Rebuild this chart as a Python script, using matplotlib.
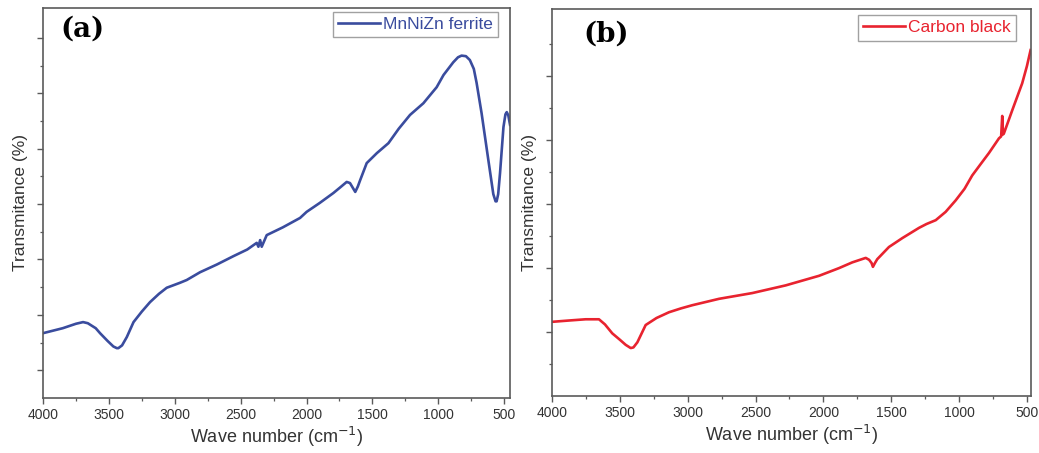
import matplotlib
matplotlib.use("Agg")
import matplotlib.pyplot as plt
from matplotlib.ticker import FixedLocator, MultipleLocator

# FTIR spectrum of MnNiZn ferrite (wave number in cm^-1, transmittance in arbitrary %)
ferrite_wn = [4000, 3850, 3750, 3696, 3660, 3600, 3567, 3510, 3466, 3440, 3428, 3400,
              3364, 3313, 3250, 3188, 3120, 3061, 2960, 2909, 2808, 2680, 2555, 2450,
              2378, 2365, 2352, 2340, 2302, 2180, 2049, 1999, 1900, 1796, 1740, 1695,
              1670, 1650, 1630, 1610, 1593, 1543, 1466, 1378, 1300, 1214, 1113, 1040,
              1012, 960, 886, 850, 823, 790, 760, 730, 709, 671, 620, 582, 565, 557,
              545, 531, 505, 490, 480, 468, 455]
ferrite_t = [11.7, 12.6, 13.4, 13.7, 13.5, 12.6, 11.7, 10.3, 9.3, 9.0, 9.0, 9.5,
             11.0, 13.7, 15.6, 17.3, 18.8, 19.9, 20.8, 21.3, 22.7, 24.1, 25.6, 26.8,
             28.0, 27.3, 28.5, 27.3, 29.4, 30.8, 32.5, 33.6, 35.2, 37.0, 38.1, 39.0,
             38.8, 38.0, 37.2, 38.2, 39.3, 42.4, 44.2, 46.0, 48.6, 51.1, 53.2, 55.3,
             56.1, 58.3, 60.6, 61.5, 61.8, 61.7, 61.0, 59.4, 56.9, 51.4, 43.0, 36.8,
             35.5, 35.5, 36.8, 40.6, 48.9, 51.2, 51.6, 51.0, 49.3]

# FTIR spectrum of carbon black
carbon_wn = [4000, 3880, 3752, 3654, 3610, 3556, 3500, 3457, 3420, 3400, 3371, 3310,
             3230, 3138, 3050, 2966, 2769, 2524, 2278, 2032, 1885, 1787, 1688, 1663,
             1645, 1635, 1620, 1603, 1517, 1418, 1295, 1240, 1172, 1099, 1025, 960,
             903, 840, 780, 706, 690, 682, 676, 669, 608, 535, 500, 473]
carbon_t = [11.6, 11.8, 12.0, 12.0, 11.2, 9.8, 8.8, 8.0, 7.5, 7.6, 8.4, 11.1,
            12.2, 13.1, 13.7, 14.2, 15.2, 16.1, 17.3, 18.8, 20.0, 20.9, 21.6, 21.3,
            20.8, 20.2, 20.8, 21.4, 23.3, 24.7, 26.3, 26.9, 27.5, 28.8, 30.6, 32.4,
            34.5, 36.3, 38.0, 40.3, 40.6, 43.8, 40.9, 41.1, 44.7, 48.9, 51.6, 54.1]

x_ticks = [4000, 3500, 3000, 2500, 2000, 1500, 1000, 500]

BLUE = "#3a4c9e"
RED = "#e8232f"
SPINE = "#5a5a5a"
TEXT = "#333333"

plt.rcParams["font.family"] = ["Liberation Sans", "DejaVu Sans"]

fig = plt.figure(figsize=(10.39, 4.53), dpi=100)
ax_a = fig.add_axes([0.0414, 0.1214, 0.4495, 0.861])
ax_b = fig.add_axes([0.5313, 0.1258, 0.4610, 0.854])


def style_axes(ax, xmin, ymax, y_major, y_minor):
    ax.set_xlim(4000, xmin)
    ax.set_ylim(0, ymax)
    ax.xaxis.set_major_locator(FixedLocator(x_ticks))
    ax.xaxis.set_minor_locator(MultipleLocator(250))
    ax.yaxis.set_major_locator(FixedLocator(y_major))
    ax.yaxis.set_minor_locator(FixedLocator(y_minor))
    ax.set_yticklabels([])
    for s in ax.spines.values():
        s.set_color(SPINE)
        s.set_linewidth(1.2)
    ax.tick_params(axis="both", which="major", direction="out", length=4,
                   width=1.0, color=SPINE, labelsize=10, labelcolor=TEXT, pad=3)
    ax.tick_params(axis="both", which="minor", direction="out", length=2.2,
                   width=0.9, color=SPINE)
    ax.set_xlabel("Wave number (cm$^{-1}$)", fontsize=13, color=TEXT, labelpad=2)
    ax.set_ylabel("Transmitance (%)", fontsize=12.5, color=TEXT, labelpad=4)


def add_legend(ax, anchor):
    leg = ax.legend(loc="upper right", bbox_to_anchor=anchor, fontsize=12.5,
                    labelcolor="linecolor", frameon=True, fancybox=False,
                    handlelength=2.4, handletextpad=0.2, borderpad=0.3,
                    borderaxespad=0)
    leg.get_frame().set_edgecolor("#8a8a8a")
    leg.get_frame().set_linewidth(1.0)
    return leg


# Panel (a): ferrite
ax_a.plot(ferrite_wn, ferrite_t, color=BLUE, lw=1.9, label="MnNiZn ferrite")
style_axes(ax_a, 455, 70.4, [5, 15, 25, 35, 45, 55, 65], [10, 20, 30, 40, 50, 60])
ax_a.text(0.037, 0.945, "(a)", transform=ax_a.transAxes, fontsize=20,
          fontweight="bold", family="DejaVu Serif", va="center", ha="left")
add_legend(ax_a, (0.975, 0.99))

# Panel (b): carbon black
ax_b.plot(carbon_wn, carbon_t, color=RED, lw=1.9, label="Carbon black")
style_axes(ax_b, 470, 60.5, [10, 20, 30, 40, 50], [5, 15, 25, 35, 45, 55])
ax_b.text(0.065, 0.935, "(b)", transform=ax_b.transAxes, fontsize=20,
          fontweight="bold", family="DejaVu Serif", va="center", ha="left")
add_legend(ax_b, (0.969, 0.985))

fig.savefig("out.png", dpi=100)
